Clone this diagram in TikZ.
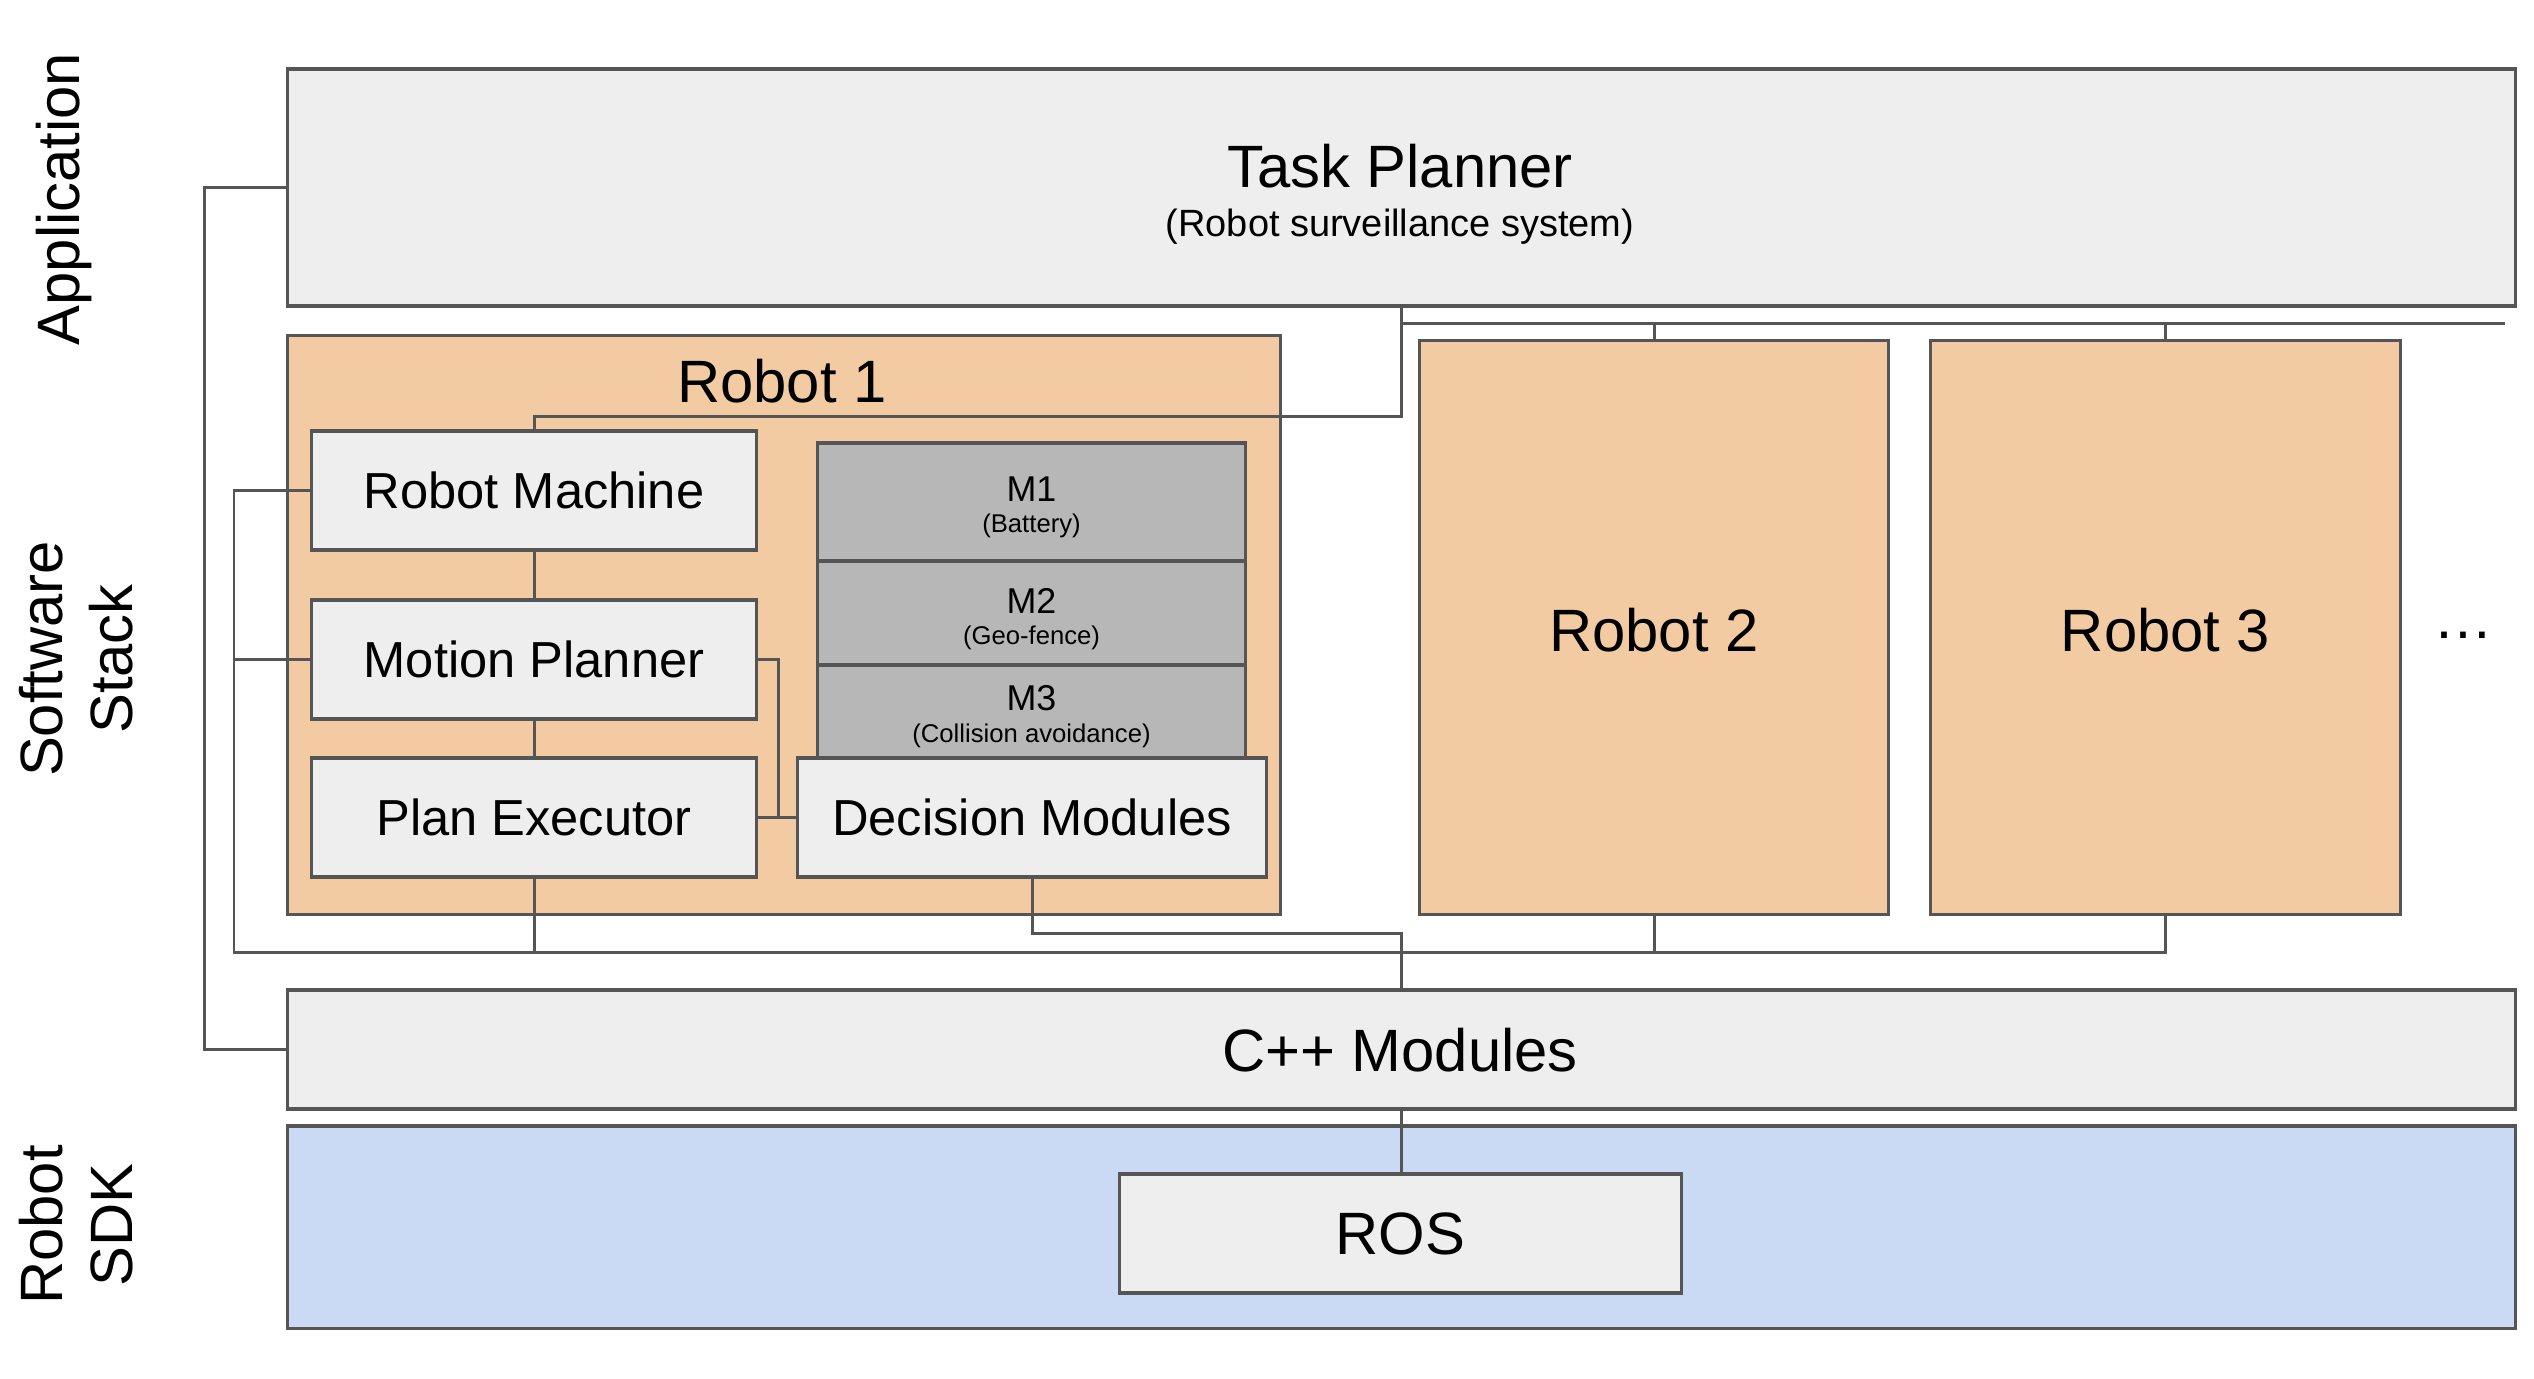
\documentclass[tikz,border=0pt]{standalone}
\usepackage{fontspec}
\setmainfont{Liberation Sans}
\definecolor{lc}{HTML}{555555}
\definecolor{gf}{HTML}{EEEEEE}
\definecolor{of}{HTML}{F2CBA2}
\definecolor{bf}{HTML}{CBDAF4}
\definecolor{mf}{HTML}{B7B7B7}
\begin{document}
\begin{tikzpicture}[x=0.01cm,y=-0.01cm,
  blk/.style={draw=lc, line width=0.9pt, inner sep=0pt, font=\fontsize{14.4}{17}\selectfont},
  gbox/.style={blk, fill=gf},
  obox/.style={blk, fill=of},
  bbox/.style={blk, fill=bf},
  mbox/.style={blk, fill=mf},
  big/.style={inner sep=0pt, font=\fontsize{17}{20}\selectfont},
  sub/.style={inner sep=0pt, font=\fontsize{10.8}{13}\selectfont},
  mtitle/.style={inner sep=0pt, font=\fontsize{10.2}{12}\selectfont},
  msub/.style={inner sep=0pt, font=\fontsize{7.3}{9}\selectfont},
  side/.style={inner sep=0pt, rotate=90, align=center, font=\fontsize{17}{19.9}\selectfont},
  conn/.style={draw=lc, line width=0.85pt}
]
\useasboundingbox (0,0) rectangle (2534,1378);

% side labels
\node[side] (lapp) at (64,199) {Application};
\node[side] (lsw) at (76,659) {Software\\Stack};
\node[side] (lsdk) at (76,1225) {Robot\\SDK};

% Task planner
\node[gbox, minimum width=22.27cm, minimum height=2.37cm] (tp) at (1401.5,187.5) {};
\node[big] (tpt) at (1400,166) {Task Planner};
\node[sub] (tps) at (1400,227) {(Robot surveillance system)};

% Robot 1
\node[obox, minimum width=9.92cm, minimum height=5.78cm] (r1) at (784,625) {};
\node[big] (r1t) at (782,381) {Robot 1};
\node[gbox, minimum width=4.44cm, minimum height=1.19cm] (rm) at (534,490.5) {Robot Machine};
\node[gbox, minimum width=4.44cm, minimum height=1.19cm] (mp) at (534,659.5) {Motion Planner};
\node[gbox, minimum width=4.44cm, minimum height=1.19cm] (pe) at (534,817.5) {Plan Executor};
\node[mbox, minimum width=4.27cm, minimum height=1.18cm] (m1) at (1031.5,502) {};
\node[mbox, minimum width=4.27cm, minimum height=1.04cm] (m2) at (1031.5,613) {};
\node[mbox, minimum width=4.27cm, minimum height=0.96cm] (m3) at (1031.5,713) {};
\node[mtitle] (m1t) at (1031.5,489) {M1};
\node[msub] (m1s) at (1031.5,526) {(Battery)};
\node[mtitle] (m2t) at (1031.5,601) {M2};
\node[msub] (m2s) at (1031.5,638) {(Geo-fence)};
\node[mtitle] (m3t) at (1031.5,698) {M3};
\node[msub] (m3s) at (1031.5,736) {(Collision avoidance)};
\node[gbox, minimum width=4.68cm, minimum height=1.19cm] (dm) at (1032,817.5) {Decision Modules};

% Robot 2, 3
\node[obox, minimum width=4.68cm, minimum height=5.73cm] (r2) at (1654,627.5) {};
\node[big] (r2t) at (1654,630) {Robot 2};
\node[obox, minimum width=4.69cm, minimum height=5.73cm] (r3) at (2165.5,627.5) {};
\node[big] (r3t) at (2165.5,630) {Robot 3};
\node[big, anchor=base] (dots) at (2463,638) {…};

% C++ and SDK
\node[gbox, minimum width=22.27cm, minimum height=1.19cm] (cpp) at (1401.5,1049.5) {};
\node[big] (cppt) at (1400,1050) {C++ Modules};
\node[bbox, minimum width=22.27cm, minimum height=2.02cm] (sdk) at (1401.5,1227) {};
\node[gbox, minimum width=5.61cm, minimum height=1.19cm, font=\fontsize{17}{20}\selectfont] (ros) at (1400.5,1233.5) {ROS};

% coordinates
\coordinate (busL) at (234,952);
\coordinate (dmb) at (1401.5,933);
\coordinate (tb) at (1401.5,416);
\coordinate (tr) at (2505,323);
\coordinate (mj) at (778,817.5);

% connectors
\draw[conn] (tp.west) -- ++(-81,0) |- (cpp.west);
\draw[conn] (rm.west) -| (busL) -| (r3.south);
\draw[conn] (mp.west) -- (mp.west -| busL);
\draw[conn] (pe.south) -- (pe.south |- busL);
\draw[conn] (r2.south) -- (r2.south |- busL);
\draw[conn] (dm.south) |- (dmb) -- (cpp.north);
\draw[conn] (cpp.south) -- (cpp.south |- ros.north);
\draw[conn] (tp.south) -- (tb) -| (rm.north);
\draw[conn] (tp.south |- tr) -- (tr);
\draw[conn] (r2.north) -- (r2.north |- tr);
\draw[conn] (r3.north) -- (r3.north |- tr);
\draw[conn] (rm.south) -- (mp.north);
\draw[conn] (mp.south) -- (pe.north);
\draw[conn] (mp.east) -| (mj);
\draw[conn] (pe.east) -- (dm.west);
\end{tikzpicture}
\end{document}
